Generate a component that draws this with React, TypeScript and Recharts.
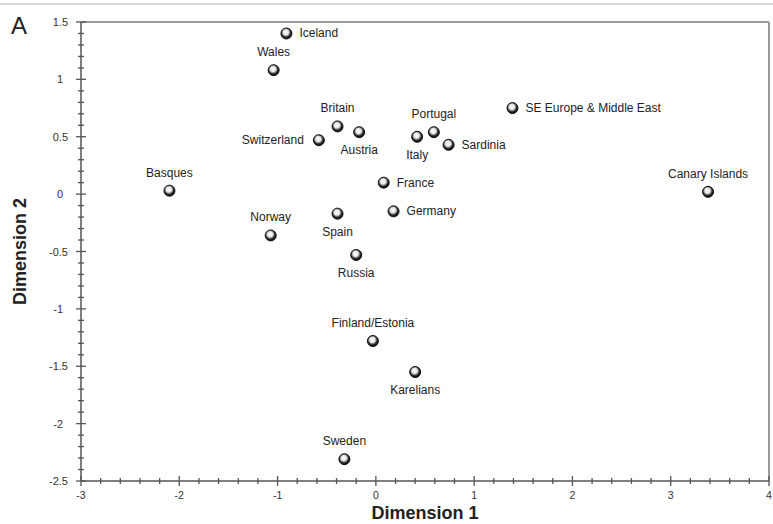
import React from "react";
import { ScatterChart, Scatter, XAxis, YAxis, ReferenceLine } from "recharts";

const populations = [
  "Iceland", "Wales", "Britain", "Austria", "Switzerland", "Basques", "France",
  "Spain", "Norway", "Germany", "Russia", "Finland/Estonia", "Karelians", "Sweden",
  "Portugal", "Italy", "Sardinia", "SE Europe & Middle East", "Canary Islands",
];
const dimension1 = [
  -0.91, -1.04, -0.39, -0.17, -0.58, -2.1, 0.08,
  -0.39, -1.07, 0.18, -0.2, -0.03, 0.4, -0.32,
  0.59, 0.42, 0.74, 1.39, 3.38,
];
const dimension2 = [
  1.4, 1.08, 0.59, 0.54, 0.47, 0.03, 0.1,
  -0.17, -0.36, -0.15, -0.53, -1.28, -1.55, -2.31,
  0.54, 0.5, 0.43, 0.75, 0.02,
];
const xMajorTicks = [-3, -2, -1, 0, 1, 2, 3, 4];
const yMajorTicks = [-2.5, -2, -1.5, -1, -0.5, 0, 0.5, 1, 1.5];

// label placement relative to each marker
const LABEL_SIDE: Record<string, string> = {
  Iceland: "right", Wales: "top", Britain: "top", Austria: "bottom",
  Switzerland: "left", Basques: "top", France: "right", Spain: "bottom",
  Norway: "top", Germany: "right", Russia: "bottom", "Finland/Estonia": "top",
  Karelians: "bottom", Sweden: "top", Portugal: "top", Italy: "bottom",
  Sardinia: "right", "SE Europe & Middle East": "right", "Canary Islands": "top",
};

const data = populations.map((name, i) => ({ name, x: dimension1[i], y: dimension2[i] }));

const xTicks: number[] = [];
for (let k = -15; k <= 20; k++) xTicks.push(Number((k * 0.2).toFixed(2)));
const yTicks: number[] = [];
for (let k = -25; k <= 15; k++) yTicks.push(Number((k * 0.1).toFixed(2)));

const FONT = "Arial, 'Liberation Sans', sans-serif";

const XTick = (props: any) => {
  const { x, y, payload } = props;
  const v = payload.value;
  const major = xMajorTicks.some((t) => Math.abs(t - v) < 1e-6);
  const h = major ? 5 : 3;
  return (
    <g>
      <line x1={x} x2={x} y1={y - h} y2={y + h} stroke="#555" strokeWidth={1.3} />
      {major && (
        <text x={x} y={y + 18} textAnchor="middle" fontSize={10.5} fontFamily={FONT} fill="#333">
          {String(v)}
        </text>
      )}
    </g>
  );
};

const YTick = (props: any) => {
  const { x, y, payload } = props;
  const v = payload.value;
  const major = yMajorTicks.some((t) => Math.abs(t - v) < 1e-6);
  const h = major ? 5 : 3;
  const isInt = Math.abs(v - Math.round(v)) < 1e-6;
  return (
    <g>
      <line x1={x - h} x2={x + h} y1={y} y2={y} stroke="#555" strokeWidth={1.3} />
      {major && (
        <text x={isInt ? x - 18 : x - 13} y={y + 4} textAnchor="end" fontSize={11} fontFamily={FONT} fill="#333">
          {String(v)}
        </text>
      )}
    </g>
  );
};

const Marker = (props: any) => {
  const { cx, cy, payload } = props;
  if (cx == null || cy == null) return null;
  const side = LABEL_SIDE[payload.name] || "right";
  let tx = cx, ty = cy + 4, anchor: "start" | "middle" | "end" = "middle";
  if (side === "right") { tx = cx + 13; anchor = "start"; }
  if (side === "left") { tx = cx - 15; anchor = "end"; }
  if (side === "top") { ty = cy - 14; }
  if (side === "bottom") { ty = cy + 22; }
  return (
    <g>
      <circle cx={cx} cy={cy} r={5.5} fill="url(#sphereGrad)" stroke="#111" strokeWidth={1} />
      <text x={tx} y={ty} textAnchor={anchor} fontSize={12} fontFamily={FONT} fill="#222">
        {payload.name}
      </text>
    </g>
  );
};

export default function App() {
  return (
    <div style={{ position: "absolute", left: 0, top: 0, width: 773, height: 524, background: "#fff", overflow: "hidden" }}>
      <div style={{ position: "absolute", left: 0, top: 3, width: 773, height: 2, background: "#d4d4d4" }} />
      <div style={{ position: "absolute", left: 11, top: 12, fontFamily: FONT, fontSize: 24, color: "#222", lineHeight: "28px" }}>A</div>
      <ScatterChart width={773} height={524} margin={{ top: 22, right: 4, bottom: 0, left: 0 }}>
        <defs>
          <radialGradient id="sphereGrad" cx="45%" cy="40%" r="60%">
            <stop offset="0%" stopColor="#ffffff" />
            <stop offset="40%" stopColor="#e6e6e6" />
            <stop offset="70%" stopColor="#333333" />
            <stop offset="100%" stopColor="#000000" />
          </radialGradient>
        </defs>
        <XAxis
          type="number"
          dataKey="x"
          domain={[-3, 4]}
          ticks={xTicks}
          interval={0}
          height={43}
          tickSize={0}
          tickMargin={0}
          tickLine={false}
          tick={XTick}
          axisLine={{ stroke: "#555", strokeWidth: 1.5 }}
          label={{ value: "Dimension 1", position: "insideBottom", offset: 5, fontSize: 18, fontWeight: "bold", fontFamily: FONT, fill: "#222" }}
        />
        <YAxis
          type="number"
          dataKey="y"
          domain={[-2.5, 1.5]}
          ticks={yTicks}
          interval={0}
          width={81}
          tickSize={0}
          tickMargin={0}
          tickLine={false}
          tick={YTick}
          axisLine={{ stroke: "#555", strokeWidth: 1.5 }}
          label={{ value: "Dimension 2", angle: -90, position: "insideLeft", offset: 20, fontSize: 18, fontWeight: "bold", fontFamily: FONT, fill: "#222", style: { textAnchor: "middle" } }}
        />
        <ReferenceLine y={1.5} stroke="#9a9a9a" strokeWidth={2} />
        <ReferenceLine x={4} stroke="#9a9a9a" strokeWidth={2} />
        <Scatter data={data} shape={Marker} isAnimationActive={false} />
      </ScatterChart>
    </div>
  );
}
